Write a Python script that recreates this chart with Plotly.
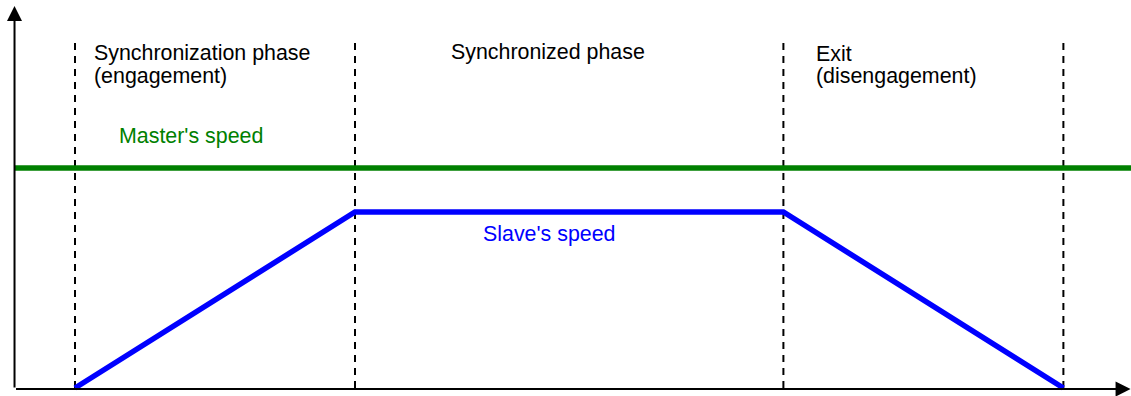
import plotly.graph_objects as go

# Time axis (arbitrary units) and speeds (master = 1.0)
phase_bounds = [0, 2.0, 5.06, 7.06]           # engagement start, sync start, exit start, exit end
master_speed = 1.0
slave_t = [0, 2.0, 5.06, 7.06]
slave_v = [0, 0.8, 0.8, 0]

x_range = [-0.5357, 7.5429]
y_range = [-0.0364, 1.7636]
axis_x0 = -0.432        # position of the vertical axis
axis_y0 = -0.005        # position of the horizontal axis
axis_x_end = 7.54
axis_y_end = 1.736
dash_top = 1.568

phase_labels = [
    ("Synchronization phase", 0.143, 1.489),
    ("(engagement)", 0.143, 1.386),
    ("Synchronized phase", 2.696, 1.493),
    ("Exit", 5.30, 1.486),
    ("(disengagement)", 5.30, 1.386),
]
master_label = ("Master's speed", 0.321, 1.1136)
slave_label = ("Slave's speed", 2.918, 0.666)

FONT = "Liberation Sans, Arial, sans-serif"
FS = 21.4

fig = go.Figure()

# dashed phase boundaries
for xb in phase_bounds:
    fig.add_trace(go.Scatter(x=[xb, xb], y=[dash_top, 0], mode="lines",
                             line=dict(color="black", width=2, dash="7px,6px"),
                             hoverinfo="skip"))

# master's speed
fig.add_trace(go.Scatter(x=[axis_x0, x_range[1]], y=[master_speed, master_speed], mode="lines",
                         line=dict(color="#008000", width=5.5), hoverinfo="skip"))
# slave's speed
fig.add_trace(go.Scatter(x=slave_t, y=slave_v, mode="lines",
                         line=dict(color="#0000FF", width=5.5), hoverinfo="skip"))

annotations = []
# axis arrows
annotations.append(dict(x=axis_x0, y=axis_y_end, ax=axis_x0, ay=axis_y0, xref="x", yref="y",
                        axref="x", ayref="y", showarrow=True, arrowhead=2, arrowsize=1.5,
                        arrowwidth=2, arrowcolor="black", text=""))
annotations.append(dict(x=axis_x_end, y=axis_y0, ax=axis_x0, ay=axis_y0, xref="x", yref="y",
                        axref="x", ayref="y", showarrow=True, arrowhead=2, arrowsize=1.5,
                        arrowwidth=2, arrowcolor="black", text=""))

def label(txt, x, y, color):
    return dict(x=x, y=y, text=txt, xref="x", yref="y", showarrow=False,
                xanchor="left", yanchor="bottom", yshift=-6.5, xshift=-3,
                font=dict(family=FONT, size=FS, color=color))

for txt, x, y in phase_labels:
    annotations.append(label(txt, x, y, "black"))
annotations.append(label(*master_label, "#008000"))
annotations.append(label(*slave_label, "#0000FF"))

fig.update_layout(
    width=1131, height=396,
    margin=dict(l=0, r=0, t=0, b=0),
    paper_bgcolor="white", plot_bgcolor="white",
    showlegend=False,
    xaxis=dict(range=x_range, visible=False, fixedrange=True),
    yaxis=dict(range=y_range, visible=False, fixedrange=True),
    annotations=annotations,
)

fig.write_html("out.html", config={"displayModeBar": False},
               post_script="document.body.style.margin='0';document.body.style.overflow='hidden';")
